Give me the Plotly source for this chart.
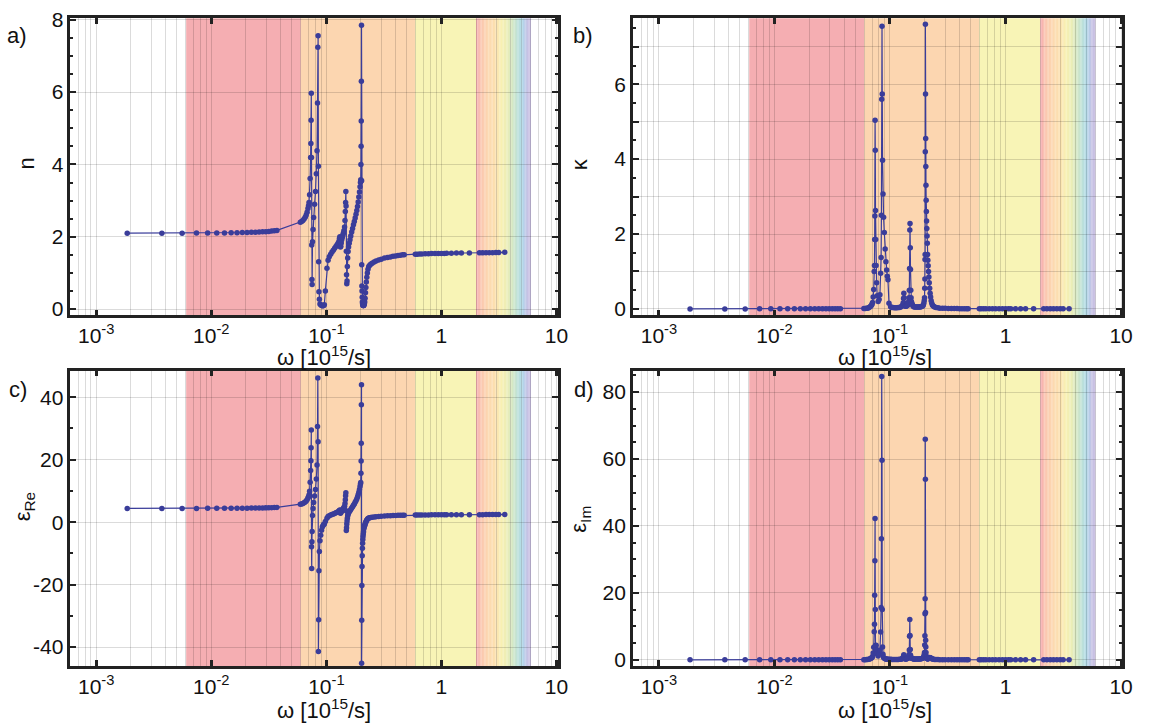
import plotly.graph_objects as go

# ---------------- data ----------------
omega = (
    [0.00186, 0.00372, 0.00558, 0.00744, 0.0093, 0.01116, 0.01302, 0.01488, 0.01674, 0.0186,
     0.02046, 0.02232, 0.02418, 0.02604, 0.0279, 0.02976, 0.03162, 0.03348, 0.03534, 0.0372]
    + [0.0594, 0.0610, 0.0625, 0.0640, 0.0655, 0.0668, 0.0680, 0.0692, 0.0700]
    + [0.0707, 0.0715, 0.0723, 0.0730, 0.0734, 0.0737, 0.0740, 0.0743, 0.0746, 0.0749, 0.0752, 0.0758]
    + [0.0766, 0.0775, 0.0790, 0.0805, 0.0818, 0.0830]
    + [0.0838, 0.0843, 0.0848, 0.0853, 0.0857, 0.0862, 0.0870, 0.0880, 0.0893, 0.0908, 0.0922, 0.0936,
       0.0948, 0.0960, 0.0980, 0.1012]
    + [0.1035, 0.1060, 0.1090, 0.1120, 0.1150, 0.1180, 0.1210, 0.1240, 0.1265]
    + [0.1285, 0.1300, 0.1310, 0.1318, 0.1326, 0.1335, 0.1347, 0.1360, 0.1375, 0.1390, 0.1405, 0.1420]
    + [0.1440, 0.1452, 0.1462, 0.1470, 0.1477, 0.1484, 0.1491, 0.1498, 0.1505, 0.1513, 0.1522, 0.1532,
       0.1545, 0.1560]
    + [0.1580, 0.1605, 0.1630, 0.1660, 0.1690, 0.1720, 0.1750, 0.1780, 0.1810, 0.1840, 0.1865, 0.1890,
       0.1915, 0.1940, 0.1962, 0.1978]
    + [0.1990, 0.1998, 0.2005, 0.2010, 0.2015, 0.2020, 0.2025, 0.2030, 0.2036, 0.2042, 0.2049, 0.2057,
       0.2065, 0.2074, 0.2083, 0.2093, 0.2103, 0.2115, 0.2127, 0.2140, 0.2155, 0.2170, 0.2187, 0.2205,
       0.2225, 0.2247, 0.2272, 0.2300, 0.2335]
    + [0.2380, 0.2430, 0.2500, 0.2600, 0.2700, 0.2850, 0.3000, 0.3200, 0.3400, 0.3600, 0.3800, 0.4000,
       0.4200, 0.4400, 0.4600, 0.4750]
    + [0.593, 0.615, 0.645, 0.676, 0.722, 0.771, 0.820, 0.879, 0.940, 1.000, 1.060, 1.110,
       1.220, 1.350, 1.490, 1.750, 2.140, 2.280, 2.440, 2.600, 2.780, 2.970, 3.150, 3.550]
)

n_vals = (
    [2.100, 2.100, 2.101, 2.102, 2.103, 2.105, 2.107, 2.109, 2.112, 2.115,
     2.118, 2.122, 2.126, 2.131, 2.136, 2.142, 2.149, 2.157, 2.166, 2.176]
    + [2.40, 2.42, 2.45, 2.49, 2.54, 2.60, 2.68, 2.78, 2.86]
    + [2.95, 3.16, 3.61, 4.19, 4.58, 5.22, 5.97, 4.19, 1.77, 0.82, 0.68, 1.86]
    + [2.20, 2.53, 2.90, 3.25, 3.74, 4.38]
    + [5.70, 7.24, 7.56, 3.95, 1.31, 0.48, 0.27, 0.14, 0.12, 0.10, 0.09, 0.09,
       0.10, 0.12, 0.50, 1.13]
    + [1.35, 1.45, 1.52, 1.58, 1.63, 1.68, 1.73, 1.78, 1.82]
    + [1.87, 1.95, 2.00, 1.85, 1.72, 1.74, 1.83, 1.92, 1.98, 2.04, 2.10, 2.17]
    + [2.27, 2.45, 2.70, 2.95, 3.25, 2.85, 1.60, 0.95, 0.70, 0.78, 1.18, 1.41,
       1.59, 1.72]
    + [1.82, 1.92, 2.02, 2.13, 2.23, 2.33, 2.42, 2.52, 2.62, 2.73, 2.84, 2.96,
       3.10, 3.24, 3.38, 3.50]
    + [3.58, 4.00, 4.50, 5.20, 6.30, 7.85, 3.55, 1.23, 0.64, 0.50, 0.33, 0.20,
       0.15, 0.12, 0.10, 0.10, 0.10, 0.10, 0.12, 0.15, 0.20, 0.30, 0.45, 0.60,
       0.75, 0.88, 1.00, 1.10, 1.18]
    + [1.21, 1.24, 1.27, 1.30, 1.33, 1.36, 1.38, 1.41, 1.43, 1.44, 1.46, 1.47,
       1.48, 1.49, 1.50, 1.50]
    + [1.520, 1.520, 1.525, 1.525, 1.530, 1.530, 1.535, 1.535, 1.540, 1.540, 1.540, 1.545,
       1.545, 1.550, 1.550, 1.550, 1.555, 1.555, 1.560, 1.560, 1.560, 1.565, 1.565, 1.570]
)

kappa_vals = (
    [0.000, 0.000, 0.000, 0.001, 0.001, 0.001, 0.001, 0.001, 0.001, 0.002,
     0.002, 0.002, 0.002, 0.002, 0.003, 0.003, 0.003, 0.003, 0.004, 0.004]
    + [0.01, 0.01, 0.015, 0.02, 0.03, 0.05, 0.07, 0.10, 0.13]
    + [0.17, 0.32, 0.52, 1.00, 1.16, 1.85, 2.48, 5.04, 4.24, 2.63, 1.85, 1.16]
    + [0.70, 0.35, 0.20, 0.25, 0.38, 0.95]
    + [1.37, 2.50, 5.60, 7.55, 5.74, 3.97, 3.07, 2.45, 2.04, 1.60, 1.26, 1.04,
       0.87, 0.78, 0.15, 0.06]
    + [0.04, 0.035, 0.03, 0.03, 0.03, 0.035, 0.04, 0.05, 0.07]
    + [0.10, 0.16, 0.28, 0.42, 0.30, 0.15, 0.09, 0.07, 0.07, 0.08, 0.09, 0.10]
    + [0.12, 0.20, 0.30, 0.50, 1.08, 2.11, 2.28, 1.63, 1.05, 0.50, 0.30, 0.20,
       0.15, 0.12]
    + [0.08, 0.06, 0.05, 0.05, 0.05, 0.05, 0.05, 0.05, 0.05, 0.06, 0.06, 0.07,
       0.08, 0.10, 0.15, 0.22]
    + [0.30, 0.55, 0.80, 1.32, 1.45, 4.20, 7.60, 5.74, 4.55, 3.80, 3.30, 2.90,
       2.60, 2.35, 2.15, 1.95, 1.75, 1.45, 1.30, 1.15, 1.00, 0.85, 0.70, 0.55,
       0.42, 0.32, 0.22, 0.15, 0.10]
    + [0.07, 0.05, 0.04, 0.03, 0.02, 0.02, 0.015, 0.01, 0.01, 0.01, 0.01, 0.005,
       0.005, 0.005, 0.005, 0.005]
    + [0.002, 0.002, 0.002, 0.002, 0.002, 0.002, 0.002, 0.002, 0.002, 0.002, 0.002, 0.002,
       0.002, 0.002, 0.002, 0.002, 0.002, 0.002, 0.002, 0.002, 0.002, 0.002, 0.002, 0.002]
)

eps_re = (
    [4.410, 4.410, 4.414, 4.418, 4.423, 4.431, 4.439, 4.448, 4.460, 4.473,
     4.486, 4.503, 4.520, 4.541, 4.562, 4.588, 4.618, 4.653, 4.692, 4.735]
    + [5.76, 5.86, 6.00, 6.20, 6.45, 6.76, 7.18, 7.72, 8.16]
    + [8.67, 9.88, 12.76, 16.56, 19.63, 23.83, 29.49, -7.85, -14.84, -6.24, -2.96, 2.11]
    + [4.35, 6.28, 8.37, 10.50, 13.84, 18.28]
    + [30.61, 46.17, 25.79, -41.40, -31.23, -15.53, -9.35, -5.98, -4.15, -2.55, -1.58, -1.07,
       -0.75, -0.59, 0.23, 1.27]
    + [1.82, 2.10, 2.31, 2.50, 2.66, 2.82, 2.99, 3.17, 3.31]
    + [3.49, 3.78, 3.92, 3.25, 2.87, 3.01, 3.34, 3.68, 3.92, 4.16, 4.40, 4.70]
    + [5.14, 5.96, 7.20, 8.45, 9.40, 3.67, -2.64, -1.75, -0.61, 0.36, 1.30, 1.95,
       2.51, 2.94]
    + [3.31, 3.68, 4.08, 4.53, 4.97, 5.43, 5.85, 6.35, 6.86, 7.45, 8.06, 8.76,
       9.60, 10.49, 11.40, 12.20]
    + [12.73, 15.70, 19.61, 25.30, 37.59, 43.98, -45.16, -31.43, -20.29, -14.19, -10.78, -8.37,
       -6.74, -5.51, -4.61, -3.79, -3.05, -2.09, -1.68, -1.30, -0.96, -0.63, -0.29, 0.06,
       0.39, 0.67, 0.95, 1.19, 1.38]
    + [1.46, 1.54, 1.61, 1.69, 1.77, 1.85, 1.90, 1.99, 2.04, 2.07, 2.13, 2.16,
       2.19, 2.22, 2.25, 2.25]
    + [2.31, 2.31, 2.33, 2.33, 2.34, 2.34, 2.36, 2.36, 2.37, 2.37, 2.37, 2.39,
       2.39, 2.40, 2.40, 2.40, 2.42, 2.42, 2.43, 2.43, 2.43, 2.45, 2.45, 2.46]
)

eps_im = (
    [0.000, 0.000, 0.001, 0.004, 0.004, 0.004, 0.004, 0.004, 0.004, 0.008,
     0.008, 0.008, 0.009, 0.009, 0.013, 0.013, 0.013, 0.013, 0.017, 0.017]
    + [0.05, 0.05, 0.07, 0.10, 0.15, 0.26, 0.38, 0.56, 0.74]
    + [1.00, 2.02, 3.75, 8.38, 10.63, 19.31, 29.61, 42.24, 15.01, 4.31, 2.52, 4.32]
    + [3.08, 1.77, 1.16, 1.63, 2.84, 8.32]
    + [15.62, 36.20, 84.67, 59.65, 15.04, 3.81, 1.66, 0.69, 0.49, 0.32, 0.23, 0.19,
       0.17, 0.19, 0.15, 0.14]
    + [0.108, 0.100, 0.090, 0.095, 0.098, 0.118, 0.138, 0.178, 0.255]
    + [0.37, 0.62, 1.12, 1.55, 1.03, 0.52, 0.33, 0.27, 0.28, 0.33, 0.38, 0.43]
    + [0.54, 0.98, 1.62, 2.95, 7.02, 12.03, 7.30, 3.10, 1.47, 0.78, 0.71, 0.56,
       0.48, 0.41]
    + [0.29, 0.23, 0.20, 0.21, 0.22, 0.23, 0.24, 0.25, 0.26, 0.33, 0.34, 0.41,
       0.50, 0.65, 1.01, 1.54]
    + [2.15, 4.40, 7.20, 13.73, 18.27, 65.94, 53.96, 14.12, 5.82, 3.80, 2.18, 1.16,
       0.78, 0.56, 0.43, 0.39, 0.35, 0.29, 0.31, 0.35, 0.40, 0.51, 0.63, 0.66,
       0.63, 0.56, 0.44, 0.33, 0.24]
    + [0.17, 0.12, 0.10, 0.08, 0.05, 0.05, 0.04, 0.03, 0.03, 0.03, 0.03, 0.015,
       0.015, 0.015, 0.015, 0.015]
    + [0.006, 0.006, 0.006, 0.006, 0.006, 0.006, 0.006, 0.006, 0.006, 0.006, 0.006, 0.006,
       0.006, 0.006, 0.006, 0.006, 0.006, 0.006, 0.006, 0.006, 0.006, 0.006, 0.006, 0.006]
)

for name, arr in [("n", n_vals), ("kappa", kappa_vals), ("eps_re", eps_re), ("eps_im", eps_im)]:
    if len(arr) != len(omega):
        raise ValueError(f"{name}: {len(arr)} vs omega {len(omega)}")

# spectral bands (frequency edges in 10^15/s)
band_edges = [0.00605, 0.0600, 0.592, 2.00]
band_colors = ["#f5aeb2", "#fcd6b0", "#f8f4b6"]
rainbow_range = [2.00, 6.00]
rainbow_stops = [
    (0.00, (246, 168, 176)), (0.08, (250, 196, 176)), (0.20, (252, 214, 176)),
    (0.36, (252, 226, 176)), (0.46, (248, 240, 178)), (0.56, (236, 238, 182)),
    (0.66, (214, 232, 196)), (0.76, (188, 224, 216)), (0.83, (178, 220, 232)),
    (0.88, (182, 206, 234)), (0.93, (198, 194, 228)), (1.00, (202, 190, 226)),
]

x_ticks = [0.001, 0.01, 0.1, 1, 10]
x_tick_text = ["10<sup>-3</sup>", "10<sup>-2</sup>", "10<sup>-1</sup>", "1", "10"]

panels = [
    dict(y=n_vals, title="n", label="a)", yr=[-0.17, 8.04],
         tickvals=[0, 2, 4, 6, 8], ticktext=["0", "2", "4", "6", "8"], minor=0.5),
    dict(y=kappa_vals, title="κ", label="b)", yr=[-0.17, 7.76],
         tickvals=[0, 1, 2, 3, 4, 5, 6, 7], ticktext=["0", "", "2", "", "4", "", "6", ""], minor=0.5),
    dict(y=eps_re, title="ε<sub>Re</sub>", label="c)", yr=[-46.1, 48.5],
         tickvals=[-40, -20, 0, 20, 40], ticktext=["-40", "-20", "0", "20", "40"], minor=10),
    dict(y=eps_im, title="ε<sub>Im</sub>", label="d)", yr=[-1.9, 86.4],
         tickvals=[0, 20, 40, 60, 80], ticktext=["0", "20", "40", "60", "80"], minor=5),
]

W, H = 1156, 727
# plot-area pixel boxes (left, right, top, bottom)
boxes = [(71, 563, 8.5, 311.7), (639, 1133, 8.5, 311.7),
         (71, 563, 368.3, 670), (639, 1133, 368.3, 670)]
label_pos = [(17, 26), (589, 26), (18, 387), (590, 387)]
ytitle_pos = [(27, 157), (585, 157), (24, 507), (586, 520)]
xtitle_pos = [(327, 353), (893, 353), (327, 714), (893, 714)]

LINE_C = "#3a3d9a"
FRAME = "#222222"
GRID = "rgba(0,0,0,0.14)"
FONT = "Liberation Sans, Arial, sans-serif"
TICK_SIZE = 21
TEXT_SIZE = 22

minor_x = [k * 10.0 ** e for e in range(-4, 1) for k in range(2, 10)]

fig = go.Figure()
layout = dict(width=W, height=H, margin=dict(l=0, r=0, t=0, b=0),
              paper_bgcolor="white", plot_bgcolor="white", showlegend=False,
              font=dict(family=FONT, size=TICK_SIZE, color="#111"))
shapes = []
annotations = []


def lerp_color(t):
    for (t0, c0), (t1, c1) in zip(rainbow_stops[:-1], rainbow_stops[1:]):
        if t0 <= t <= t1:
            f = (t - t0) / (t1 - t0) if t1 > t0 else 0
            c = [round(a + (b - a) * f) for a, b in zip(c0, c1)]
            return f"rgb({c[0]},{c[1]},{c[2]})"
    c = rainbow_stops[-1][1]
    return f"rgb({c[0]},{c[1]},{c[2]})"


def text_ann(text, px, py, angle=0):
    return dict(text=text, x=px / W, y=1 - py / H, xref="paper", yref="paper",
                xanchor="center", yanchor="middle", showarrow=False, textangle=angle,
                font=dict(size=TEXT_SIZE, family=FONT, color="#111"))


for i, p in enumerate(panels):
    k = "" if i == 0 else str(i + 1)
    xa, ya = "x" + k, "y" + k
    l, r, t, b = boxes[i]
    fig.add_trace(go.Scatter(
        x=omega, y=p["y"], mode="lines+markers", xaxis=xa, yaxis=ya,
        line=dict(color=LINE_C, width=1.2), marker=dict(color=LINE_C, size=5.5),
        hoverinfo="skip"))
    layout["xaxis" + k] = dict(
        type="log", range=[-3.225, 1.01], domain=[l / W, r / W], anchor=ya,
        tickvals=x_ticks, ticktext=x_tick_text, ticks="inside", ticklen=6, tickwidth=2.5,
        tickcolor=FRAME, showline=True, linewidth=2.5, linecolor=FRAME, mirror="ticks",
        showgrid=True, gridcolor=GRID, gridwidth=1, zeroline=False,
        minor=dict(tickvals=minor_x, showgrid=True, gridcolor=GRID, gridwidth=1, ticks=""),
        ticklabeloverflow="allow",
        tickfont=dict(size=TICK_SIZE, family=FONT, color="#111"))
    layout["yaxis" + k] = dict(
        range=p["yr"], domain=[1 - b / H, 1 - t / H], anchor=xa,
        tickvals=p["tickvals"], ticktext=p["ticktext"], ticks="inside", ticklen=6, tickwidth=2,
        tickcolor=FRAME, showline=True, linewidth=2.5, linecolor=FRAME, mirror="ticks",
        showgrid=True, gridcolor=GRID, gridwidth=1, zeroline=False,
        minor=dict(dtick=p["minor"], ticks="inside", ticklen=3, tickwidth=1.5,
                   tickcolor=FRAME, showgrid=False),
        ticklabeloverflow="allow",
        tickfont=dict(size=TICK_SIZE, family=FONT, color="#111"))
    yref = ya + " domain"
    # solid bands
    for j, col in enumerate(band_colors):
        x0 = band_edges[j]
        x1 = band_edges[j + 1] if j + 1 < len(band_edges) else rainbow_range[0]
        shapes.append(dict(type="rect", xref=xa, yref=yref, x0=x0, x1=x1, y0=0, y1=1,
                           fillcolor=col, line=dict(width=0), layer="below"))
    # rainbow gradient (visible part of the spectrum)
    nsl = 40
    lo, hi = rainbow_range
    for s in range(nsl):
        x0 = lo * (hi / lo) ** (s / nsl)
        x1 = lo * (hi / lo) ** ((s + 1) / nsl) * 1.002
        shapes.append(dict(type="rect", xref=xa, yref=yref, x0=x0, x1=min(x1, hi), y0=0, y1=1,
                           fillcolor=lerp_color((s + 0.5) / nsl), line=dict(width=0),
                           layer="below"))
    annotations.append(text_ann(p["label"], *label_pos[i]))
    annotations.append(text_ann(p["title"], *ytitle_pos[i], angle=-90))
    annotations.append(text_ann("ω [10<sup>15</sup>/s]", *xtitle_pos[i]))

layout["shapes"] = shapes
layout["annotations"] = annotations
fig.update_layout(**layout)
fig.write_html("out.html")
